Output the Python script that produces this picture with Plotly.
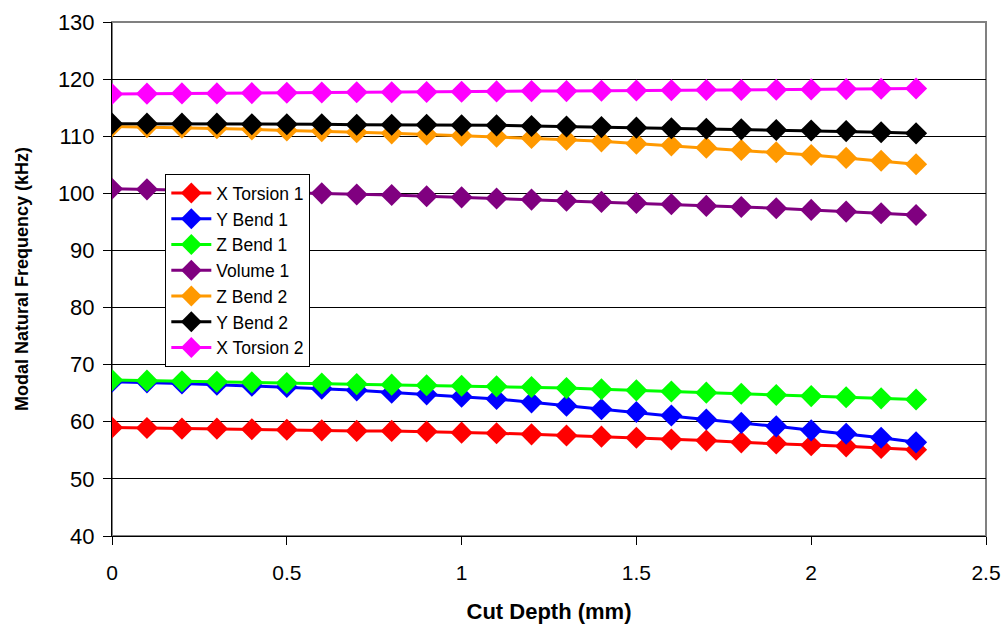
import plotly.graph_objects as go

cut_depth = [round(i * 0.1, 1) for i in range(24)]

x_torsion_1 = [59.0, 58.9, 58.8, 58.8, 58.7, 58.6, 58.5, 58.4, 58.4, 58.3, 58.1, 58.0,
               57.8, 57.6, 57.4, 57.2, 56.9, 56.7, 56.4, 56.2, 55.9, 55.7, 55.4, 55.1]
y_bend_1 = [67.0, 66.9, 66.7, 66.5, 66.3, 66.1, 65.8, 65.5, 65.1, 64.8, 64.4, 64.0,
            63.4, 62.8, 62.2, 61.7, 61.1, 60.4, 59.8, 59.2, 58.5, 57.9, 57.2, 56.4]
z_bend_1 = [67.3, 67.2, 67.1, 67.0, 66.9, 66.8, 66.7, 66.6, 66.5, 66.4, 66.3, 66.2,
            66.1, 65.9, 65.7, 65.5, 65.3, 65.1, 64.9, 64.7, 64.5, 64.3, 64.1, 63.9]
volume_1 = [100.8, 100.7, 100.6, 100.4, 100.3, 100.1, 100.0, 99.8, 99.7, 99.5, 99.3, 99.1,
            98.9, 98.7, 98.5, 98.3, 98.1, 97.8, 97.6, 97.4, 97.1, 96.8, 96.5, 96.2]
z_bend_2 = [111.7, 111.6, 111.5, 111.4, 111.2, 111.0, 110.9, 110.7, 110.5, 110.3, 110.1, 109.9,
            109.7, 109.4, 109.1, 108.7, 108.4, 108.0, 107.6, 107.2, 106.7, 106.2, 105.7, 105.1]
y_bend_2 = [112.2, 112.2, 112.2, 112.2, 112.1, 112.1, 112.1, 112.0, 112.0, 112.0, 111.9, 111.9,
            111.8, 111.7, 111.6, 111.5, 111.4, 111.3, 111.2, 111.1, 111.0, 110.9, 110.7, 110.5]
x_torsion_2 = [117.4, 117.45, 117.5, 117.5, 117.55, 117.6, 117.65, 117.7, 117.7, 117.75, 117.8, 117.85,
               117.9, 117.9, 117.95, 118.0, 118.05, 118.1, 118.1, 118.15, 118.2, 118.25, 118.3, 118.35]

series_names = ["X Torsion 1", "Y Bend 1", "Z Bend 1", "Volume 1", "Z Bend 2", "Y Bend 2", "X Torsion 2"]
series_values = [x_torsion_1, y_bend_1, z_bend_1, volume_1, z_bend_2, y_bend_2, x_torsion_2]
series_colors = ["#FF0000", "#0000FF", "#00FF00", "#800080", "#FF9900", "#000000", "#FF00FF"]

x_ticks = [0, 0.5, 1, 1.5, 2, 2.5]
x_tick_labels = ["0", "0.5", "1", "1.5", "2", "2.5"]
y_ticks = [40, 50, 60, 70, 80, 90, 100, 110, 120, 130]

FONT = "Liberation Sans, Arial, sans-serif"

fig = go.Figure()
for name, vals, col in zip(series_names, series_values, series_colors):
    fig.add_trace(go.Scatter(
        x=cut_depth, y=vals, name=name, mode="lines+markers",
        line=dict(color=col, width=3),
        marker=dict(symbol="diamond", size=17, color=col),
    ))

fig.update_layout(
    width=1007, height=626,
    margin=dict(l=112, r=21, t=22, b=90),
    paper_bgcolor="white", plot_bgcolor="white",
    font=dict(family=FONT, size=17, color="#000000"),
    showlegend=True,
    legend=dict(
        x=0.061, y=0.704, xanchor="left", yanchor="top",
        bgcolor="white", bordercolor="#000000", borderwidth=1,
        font=dict(family=FONT, size=17.5, color="#000000"),
        tracegroupgap=0, itemwidth=40,
    ),
    shapes=[dict(type="rect", xref="paper", yref="paper", x0=0, y0=0, x1=1, y1=1,
                 line=dict(color="#808080", width=2), layer="below")],
)

fig.update_xaxes(
    range=[0, 2.5], tickvals=x_ticks, ticktext=x_tick_labels,
    showgrid=False, zeroline=False, automargin=False,
    showline=True, linecolor="#000000", linewidth=1,
    ticks="outside", ticklen=8, tickcolor="#000000",
    ticklabelstandoff=10,
    tickfont=dict(family=FONT, size=21),
    title=dict(text="<b>Cut Depth (mm)</b>", font=dict(family=FONT, size=22), standoff=20),
)
fig.update_yaxes(
    range=[40, 130], tickvals=y_ticks,
    showgrid=True, gridcolor="#000000", gridwidth=1, zeroline=False, automargin=False,
    showline=True, linecolor="#000000", linewidth=1,
    ticks="outside", ticklen=8, tickcolor="#000000",
    ticklabelstandoff=4,
    tickfont=dict(family=FONT, size=22),
    title=dict(text="<b>Modal Natural Frequency (kHz)</b>", font=dict(family=FONT, size=18), standoff=24),
)

fig.write_html("out.html")
